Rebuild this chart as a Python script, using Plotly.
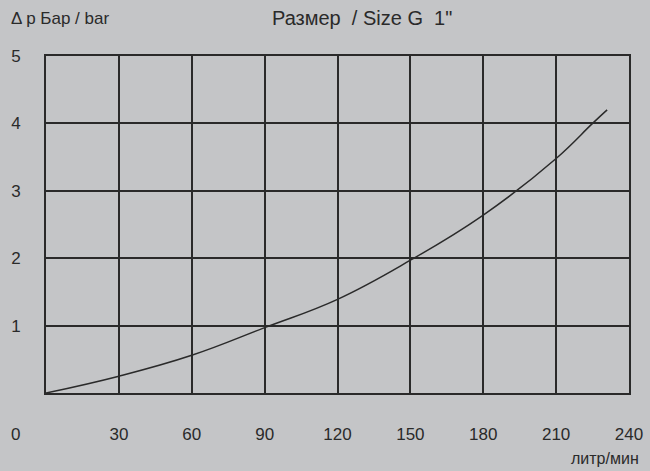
import plotly.graph_objects as go

# pressure drop curve, G 1"
flow = [0, 30, 60, 90, 120, 150, 180, 210, 225, 231]
dp = [0, 0.25, 0.56, 0.97, 1.39, 1.97, 2.64, 3.48, 4.0, 4.2]

x_ticks = [30, 60, 90, 120, 150, 180, 210, 240]
y_ticks = [1, 2, 3, 4, 5]

BG = "#c4c5c7"
INK = "#2a2a2a"
FONT = "Liberation Sans Narrow, Liberation Sans, Arial, sans-serif"

L, R, T, B = 46, 21, 56, 78
W, H = 650, 471
pw, ph = W - L - R, H - T - B


def px_x(v):
    return (v - L) / pw


def px_y(v):
    return (H - B - v) / ph


fig = go.Figure()
fig.add_trace(go.Scatter(
    x=flow, y=dp,
    mode="lines",
    line=dict(color=INK, width=1.5, shape="spline", smoothing=1.2),
    hoverinfo="skip",
    showlegend=False,
))

fig.update_layout(
    width=W, height=H,
    margin=dict(l=L, r=R, t=T, b=B),
    plot_bgcolor=BG,
    paper_bgcolor=BG,
    font=dict(family=FONT, color=INK, size=16),
    xaxis=dict(
        range=[0, 240], tickvals=x_ticks, ticks="",
        showgrid=True, gridcolor=INK, gridwidth=1.6,
        showline=True, linecolor=INK, linewidth=2, mirror=True,
        zeroline=False, ticklabelstandoff=25, automargin=False,
        tickfont=dict(size=17),
    ),
    yaxis=dict(
        range=[0, 5], tickvals=y_ticks, ticks="",
        showgrid=True, gridcolor=INK, gridwidth=1.6,
        showline=True, linecolor=INK, linewidth=2, mirror=True,
        zeroline=False, ticklabelstandoff=20, automargin=False,
        tickfont=dict(size=17),
    ),
    annotations=[
        dict(text="Размер  / Size G  1\"", x=px_x(362), y=px_y(18), xanchor="center"),
        dict(text="\u0394 p Бар / bar", x=px_x(9), y=px_y(18), xanchor="left",
             font=dict(size=17)),
        dict(text="0", x=px_x(15), y=px_y(434), xanchor="center", font=dict(size=17)),
        dict(text="литр/мин", x=px_x(641), y=px_y(459), xanchor="right"),
    ],
)
fig.update_annotations(xref="paper", yref="paper", yanchor="middle", showarrow=False)
fig.layout.annotations[0].font = dict(size=20)

fig.write_html(
    "out.html",
    config={"displayModeBar": False},
    post_script="document.body.style.margin='0';document.body.style.background='#c4c5c7';",
)
